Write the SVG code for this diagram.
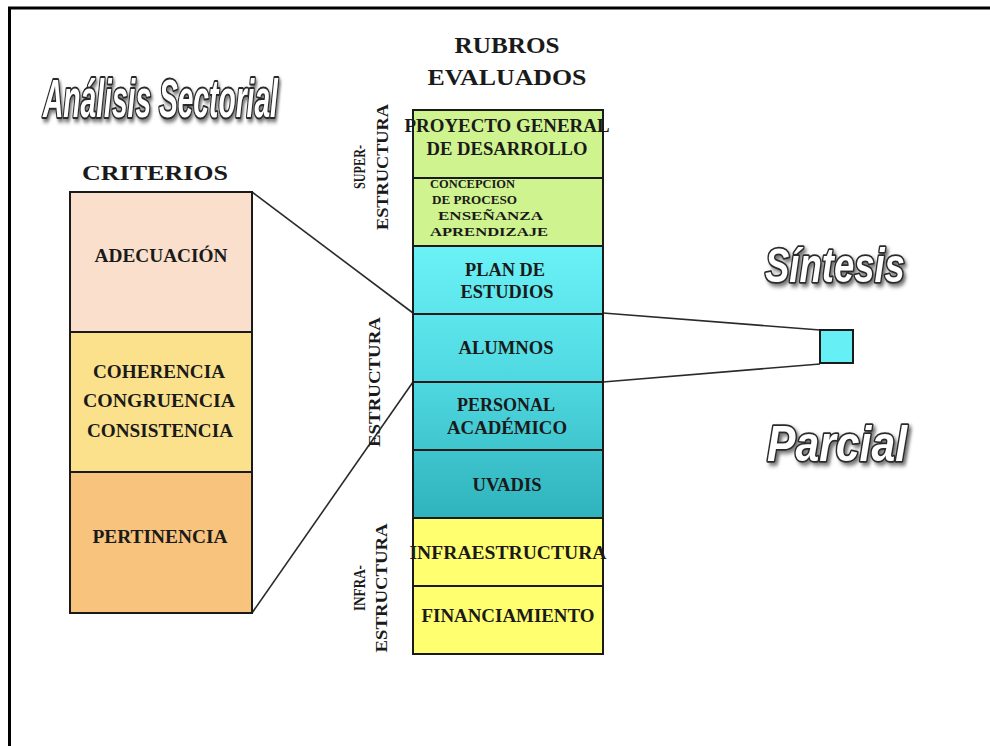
<svg xmlns="http://www.w3.org/2000/svg" width="990" height="746" viewBox="0 0 990 746">
<defs>
  <linearGradient id="cyanGrad" gradientUnits="userSpaceOnUse" x1="0" y1="246" x2="0" y2="518">
    <stop offset="0" stop-color="#6AF2F7"/>
    <stop offset="0.5" stop-color="#4FD8E0"/>
    <stop offset="1" stop-color="#2FB2BC"/>
  </linearGradient>
  <filter id="shadow" x="-10%" y="-30%" width="120%" height="160%">
    <feDropShadow dx="3" dy="3" stdDeviation="2" flood-color="#444" flood-opacity="0.75"/>
  </filter>
</defs>
<style>
  .frame { fill: none; stroke: #000; stroke-width: 3; }
  .box { stroke: #1a1a1a; stroke-width: 2; }
  .lbl { font-family: "Liberation Serif", "Times New Roman", serif; font-weight: bold; fill: #1a1a1a; text-anchor: middle; }
  .f18 { font-size: 18px; }
  .f12 { font-size: 12.5px; text-anchor: start; }
  .head { font-size: 24px; }
  .side { font-size: 17px; }
  .fancy { font-family: "Liberation Sans", Arial, sans-serif; font-weight: bold; font-style: italic; fill: #fff; stroke: #2a2a2a; stroke-width: 3.2; paint-order: stroke fill; stroke-linejoin: round; vector-effect: non-scaling-stroke; filter: url(#shadow); }
  .conn { fill: none; stroke: #2a2a2a; stroke-width: 1.6; }
</style>
<rect width="990" height="746" fill="#fff"/>
<path class="frame" d="M9.5 746 V8 H990"/>

<g id="titulo-analisis">
  <text class="fancy" transform="translate(43,117) scale(0.522,1)" x="0" y="0" font-size="54">Análisis Sectorial</text>
</g>
<g id="titulo-sintesis">
  <text class="fancy" transform="translate(765,282) scale(0.76,1)" x="0" y="0" font-size="48">Síntesis</text>
</g>
<g id="titulo-parcial">
  <text class="fancy" transform="translate(767,461) scale(0.854,1)" x="0" y="0" font-size="50">Parcial</text>
</g>

<g id="connectors">
  <line class="conn" x1="252" y1="192" x2="413" y2="313"/>
  <line class="conn" x1="252" y1="613" x2="413" y2="382"/>
  <line class="conn" x1="603" y1="313" x2="820" y2="330"/>
  <line class="conn" x1="603" y1="382" x2="820" y2="364"/>
</g>

<g id="criterios">
  <text class="lbl" x="155" y="180" font-size="22" textLength="146" lengthAdjust="spacingAndGlyphs">CRITERIOS</text>
</g>
<g id="adecuacion">
  <rect class="box" x="70" y="192" width="182" height="140" fill="#FAE0CC"/>
  <text class="lbl f18" x="161" y="262" textLength="133" lengthAdjust="spacingAndGlyphs">ADECUACIÓN</text>
</g>
<g id="coherencia">
  <rect class="box" x="70" y="332" width="182" height="140" fill="#FCE18C"/>
  <text class="lbl f18" x="159" y="378" textLength="132" lengthAdjust="spacingAndGlyphs">COHERENCIA</text>
  <text class="lbl f18" x="159" y="407" textLength="152" lengthAdjust="spacingAndGlyphs">CONGRUENCIA</text>
  <text class="lbl f18" x="160" y="437" textLength="146" lengthAdjust="spacingAndGlyphs">CONSISTENCIA</text>
</g>
<g id="pertinencia">
  <rect class="box" x="70" y="472" width="182" height="141" fill="#F8C37D"/>
  <text class="lbl f18" x="160" y="543" textLength="135" lengthAdjust="spacingAndGlyphs">PERTINENCIA</text>
</g>

<g id="rubros">
  <text class="lbl head" x="507" y="53" textLength="105" lengthAdjust="spacingAndGlyphs">RUBROS</text>
  <text class="lbl head" x="507" y="85" textLength="159" lengthAdjust="spacingAndGlyphs">EVALUADOS</text>
</g>

<g id="superestructura">
  <text class="lbl side" transform="translate(365,167) rotate(-90)" textLength="44" lengthAdjust="spacingAndGlyphs">SUPER-</text>
  <text class="lbl side" transform="translate(388,167) rotate(-90)" textLength="126" lengthAdjust="spacingAndGlyphs">ESTRUCTURA</text>
</g>
<g id="estructura">
  <text class="lbl side" transform="translate(380,382) rotate(-90)" textLength="130" lengthAdjust="spacingAndGlyphs">ESTRUCTURA</text>
</g>
<g id="infraestructura-label">
  <text class="lbl side" transform="translate(365,588) rotate(-90)" textLength="46" lengthAdjust="spacingAndGlyphs">INFRA-</text>
  <text class="lbl side" transform="translate(387,588) rotate(-90)" textLength="129" lengthAdjust="spacingAndGlyphs">ESTRUCTURA</text>
</g>

<g id="proyecto">
  <rect class="box" x="413" y="110" width="190" height="68" fill="#CFF38E"/>
  <text class="lbl f18" x="507" y="132" textLength="205" lengthAdjust="spacingAndGlyphs">PROYECTO GENERAL</text>
  <text class="lbl f18" x="507" y="155" textLength="161" lengthAdjust="spacingAndGlyphs">DE DESARROLLO</text>
</g>
<g id="concepcion">
  <rect class="box" x="413" y="178" width="190" height="68" fill="#CFF38E"/>
  <text class="lbl f12" x="430" y="188" textLength="85" lengthAdjust="spacingAndGlyphs">CONCEPCION</text>
  <text class="lbl f12" x="432" y="204" textLength="85" lengthAdjust="spacingAndGlyphs">DE PROCESO</text>
  <text class="lbl f12" x="438" y="220" textLength="105" lengthAdjust="spacingAndGlyphs">ENSEÑANZA</text>
  <text class="lbl f12" x="430" y="236" textLength="118" lengthAdjust="spacingAndGlyphs">APRENDIZAJE</text>
</g>
<g id="plan">
  <rect class="box" x="413" y="246" width="190" height="68" fill="url(#cyanGrad)"/>
  <text class="lbl f18" x="505" y="276" textLength="80" lengthAdjust="spacingAndGlyphs">PLAN DE</text>
  <text class="lbl f18" x="507" y="298" textLength="93" lengthAdjust="spacingAndGlyphs">ESTUDIOS</text>
</g>
<g id="alumnos">
  <rect class="box" x="413" y="314" width="190" height="68" fill="url(#cyanGrad)"/>
  <text class="lbl f18" x="506" y="354" textLength="95" lengthAdjust="spacingAndGlyphs">ALUMNOS</text>
</g>
<g id="personal">
  <rect class="box" x="413" y="382" width="190" height="68" fill="url(#cyanGrad)"/>
  <text class="lbl f18" x="506" y="411" textLength="98" lengthAdjust="spacingAndGlyphs">PERSONAL</text>
  <text class="lbl f18" x="507" y="434" textLength="120" lengthAdjust="spacingAndGlyphs">ACADÉMICO</text>
</g>
<g id="uvadis">
  <rect class="box" x="413" y="450" width="190" height="68" fill="url(#cyanGrad)"/>
  <text class="lbl f18" x="507" y="491" textLength="69" lengthAdjust="spacingAndGlyphs">UVADIS</text>
</g>
<g id="infraestructura">
  <rect class="box" x="413" y="518" width="190" height="68" fill="#FFFF70"/>
  <text class="lbl f18" x="508" y="559" textLength="197" lengthAdjust="spacingAndGlyphs">INFRAESTRUCTURA</text>
</g>
<g id="financiamiento">
  <rect class="box" x="413" y="586" width="190" height="68" fill="#FFFF70"/>
  <text class="lbl f18" x="508" y="622" textLength="173" lengthAdjust="spacingAndGlyphs">FINANCIAMIENTO</text>
</g>

<g id="sintesis-nodo">
  <rect class="box" x="820" y="330" width="33" height="33" fill="#66F0F6" stroke-width="1.6"/>
</g>
</svg>
